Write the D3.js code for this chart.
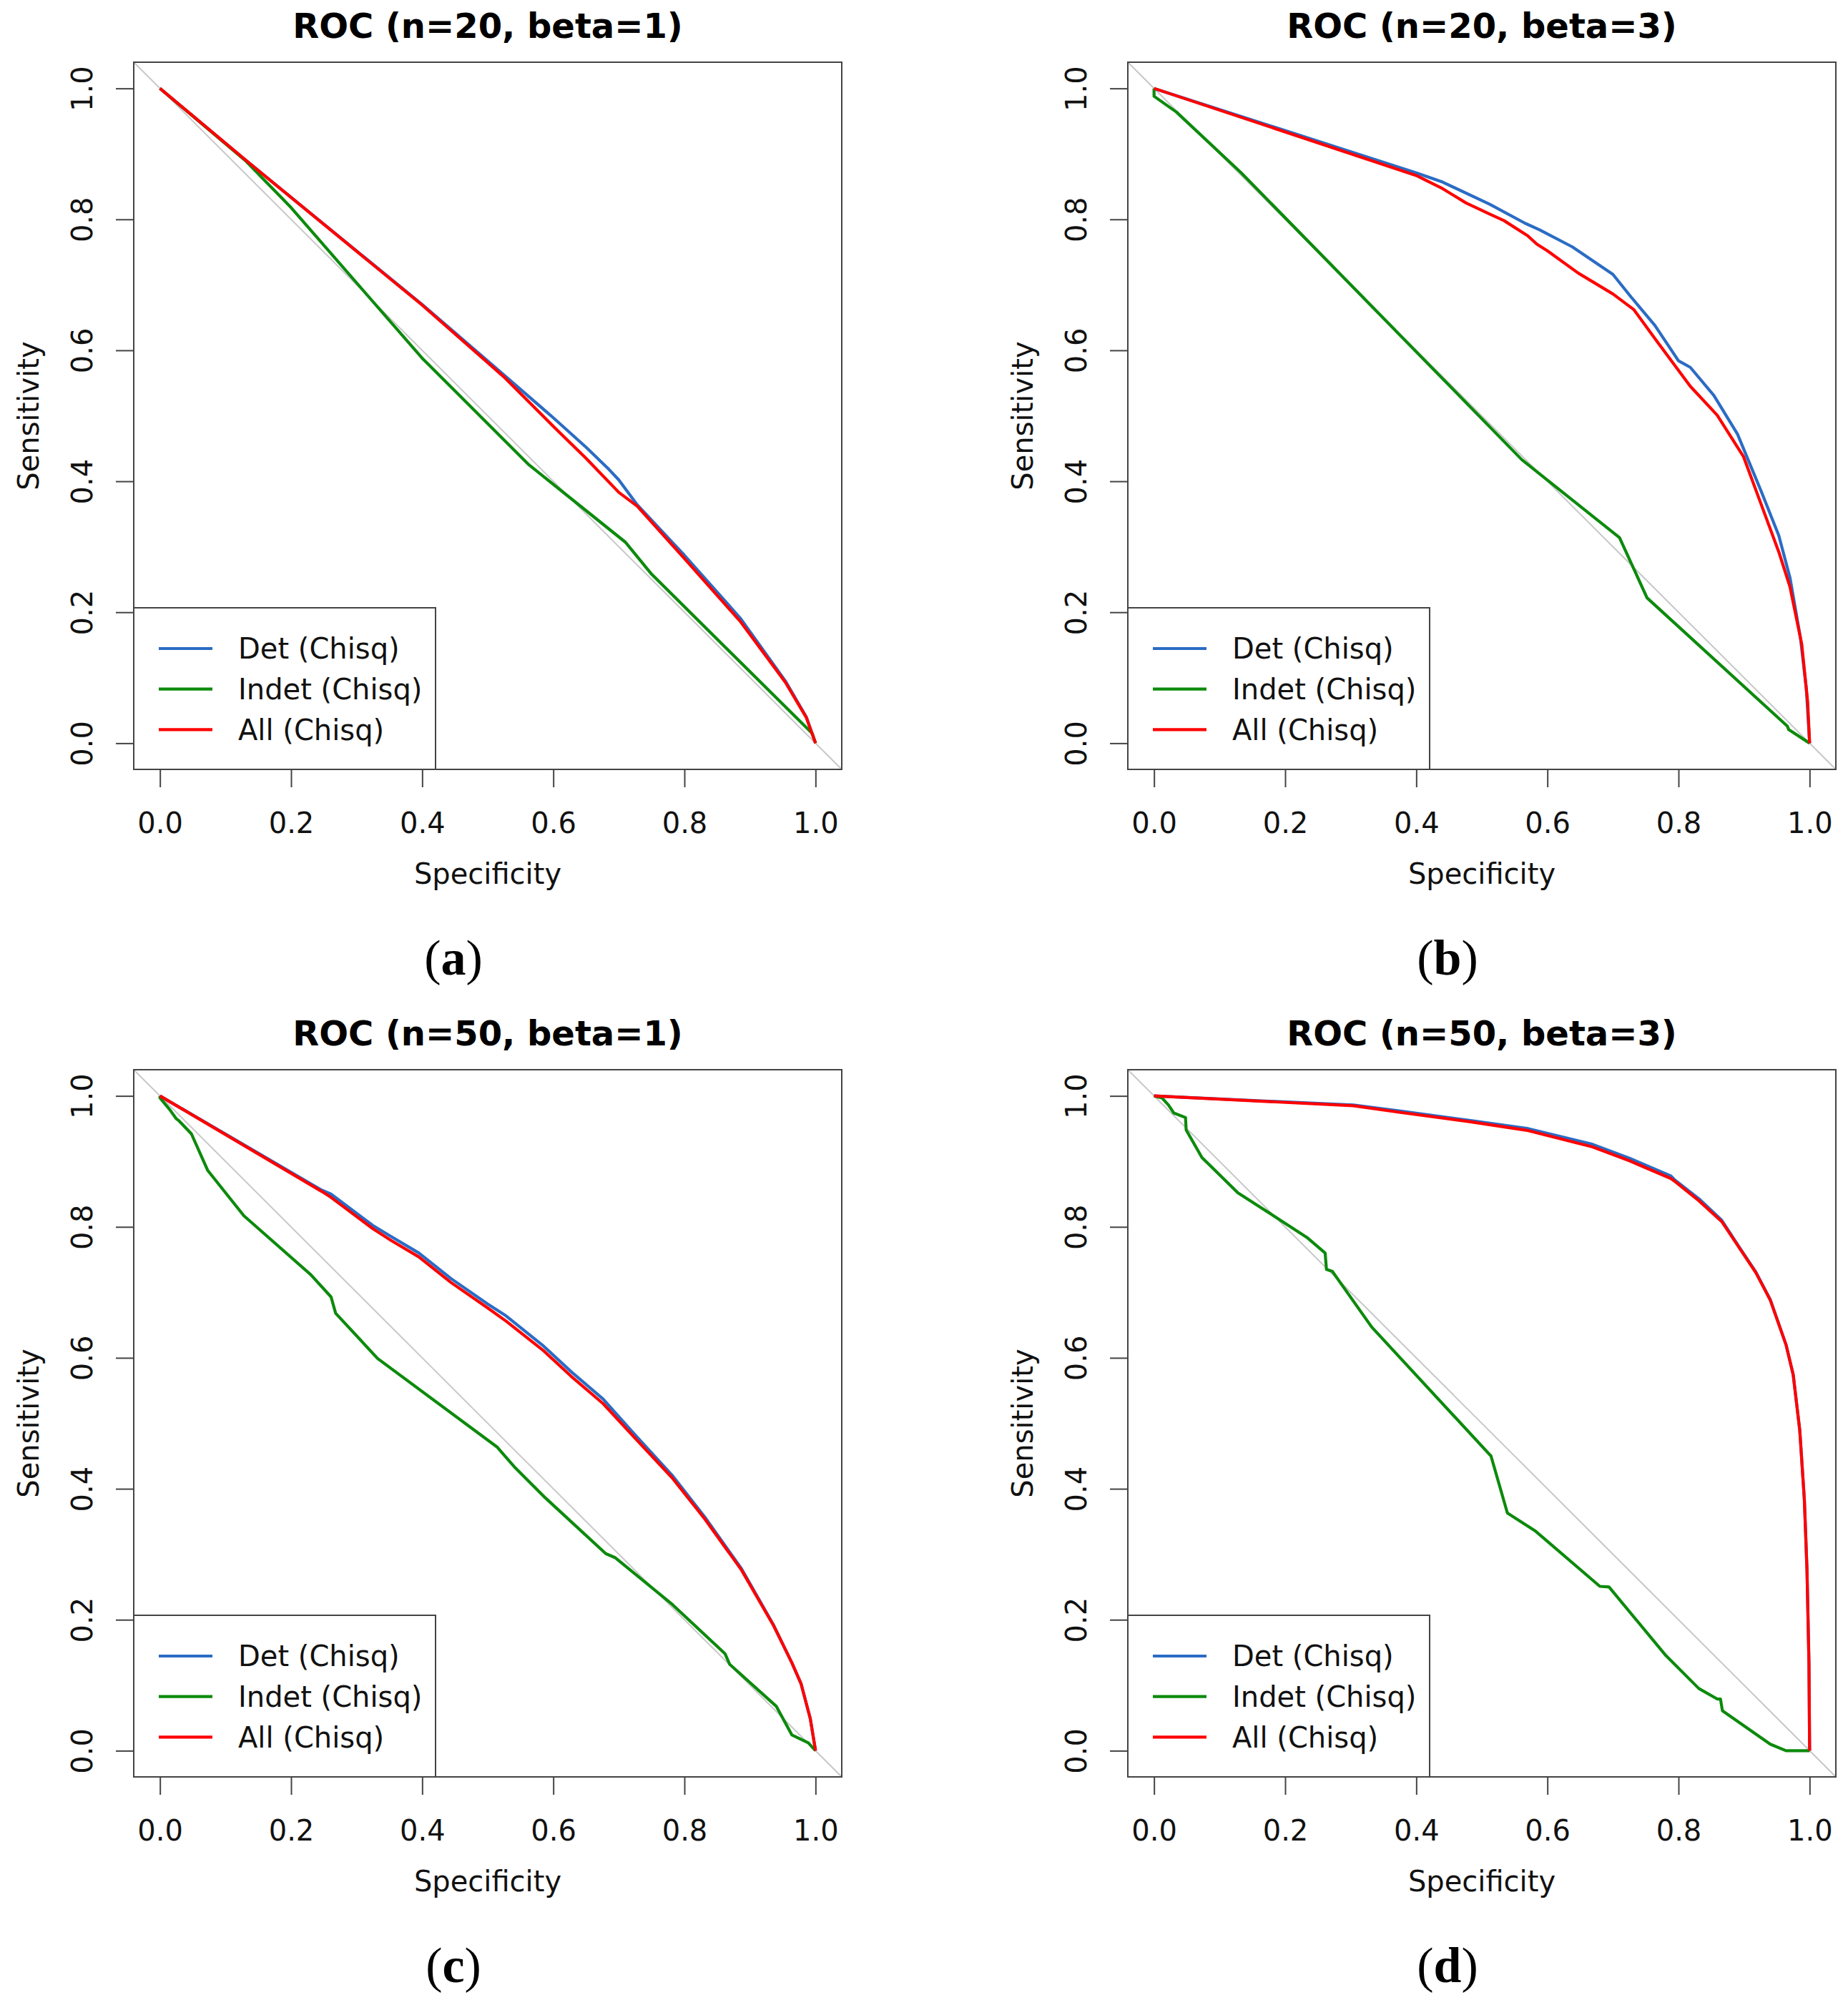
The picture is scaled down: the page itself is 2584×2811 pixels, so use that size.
<!DOCTYPE html>
<html>
<head>
<meta charset="utf-8">
<script src="https://cdn.jsdelivr.net/npm/d3@7"></script>
<style>
  body { margin: 0; background: #fff; }
  svg { display: block; }
</style>
</head>
<body>
<div id="svg-container"></div>
<script>
// data: [specificity, sensitivity] points

// (a) n=20, beta=1
const a_det = [[0,1],[0.13,0.891],[0.4,0.670],[0.524,0.563],[0.6,0.497],[0.65,0.452],[0.685,0.418],[0.70,0.402],[0.728,0.364],[0.80,0.287],[0.886,0.190],[0.954,0.095],[0.986,0.040],[1,0]]
const a_indet = [[0,1],[0.13,0.89],[0.2,0.818],[0.4,0.588],[0.563,0.425],[0.71,0.307],[0.75,0.258],[0.995,0.015],[1,0]]
const a_all = [[0,1],[0.13,0.891],[0.4,0.669],[0.524,0.560],[0.6,0.484],[0.65,0.435],[0.70,0.383],[0.728,0.362],[0.80,0.282],[0.886,0.185],[0.954,0.093],[0.986,0.039],[1,0]]

// (b) n=20, beta=3
const b_det = [[0,1],[0.4,0.871],[0.44,0.857],[0.512,0.823],[0.566,0.794],[0.588,0.784],[0.638,0.758],[0.70,0.716],[0.728,0.681],[0.764,0.638],[0.80,0.584],[0.818,0.574],[0.854,0.531],[0.89,0.472],[0.926,0.385],[0.953,0.317],[0.97,0.253],[0.986,0.161],[0.995,0.083],[1,0]]
const b_indet = [[0,1],[0,0.988],[0.034,0.964],[0.133,0.871],[0.561,0.433],[0.71,0.314],[0.752,0.222],[0.966,0.026],[0.968,0.021],[1,0]]
const b_all = [[0,1],[0.4,0.867],[0.44,0.847],[0.476,0.825],[0.512,0.808],[0.534,0.798],[0.57,0.775],[0.584,0.762],[0.6,0.752],[0.647,0.718],[0.70,0.686],[0.732,0.662],[0.764,0.618],[0.818,0.545],[0.859,0.501],[0.899,0.438],[0.926,0.365],[0.953,0.292],[0.97,0.239],[0.988,0.151],[0.997,0.063],[1,0]]

// (c) n=50, beta=1
const c_det = [[0,1],[0.247,0.856],[0.261,0.850],[0.325,0.802],[0.353,0.785],[0.395,0.760],[0.444,0.721],[0.500,0.682],[0.528,0.664],[0.585,0.618],[0.627,0.579],[0.676,0.537],[0.725,0.482],[0.781,0.421],[0.831,0.357],[0.887,0.278],[0.936,0.192],[0.964,0.134],[0.978,0.102],[0.992,0.049],[1,0]]
const c_indet = [[0,1],[0,0.997],[0.015,0.979],[0.025,0.965],[0.029,0.962],[0.048,0.942],[0.073,0.886],[0.128,0.817],[0.230,0.727],[0.261,0.693],[0.268,0.668],[0.332,0.599],[0.514,0.464],[0.542,0.432],[0.588,0.386],[0.680,0.301],[0.694,0.295],[0.782,0.223],[0.862,0.148],[0.869,0.132],[0.940,0.068],[0.964,0.024],[0.989,0.012],[1,0]]
const c_all = [[0,1],[0.247,0.854],[0.261,0.845],[0.325,0.797],[0.353,0.779],[0.395,0.754],[0.444,0.715],[0.500,0.676],[0.528,0.656],[0.585,0.611],[0.627,0.572],[0.676,0.530],[0.725,0.477],[0.781,0.417],[0.831,0.354],[0.887,0.276],[0.936,0.191],[0.964,0.134],[0.978,0.102],[0.992,0.049],[1,0]]

// (d) n=50, beta=3
const d_det = [[0,1],[0.304,0.986],[0.374,0.977],[0.479,0.963],[0.571,0.950],[0.669,0.926],[0.725,0.905],[0.788,0.878],[0.795,0.871],[0.831,0.843],[0.866,0.810],[0.894,0.767],[0.918,0.731],[0.940,0.689],[0.964,0.620],[0.975,0.574],[0.985,0.489],[0.992,0.383],[0.996,0.276],[0.999,0.134],[1,0]]
const d_indet = [[0,1],[0.012,0.997],[0.022,0.986],[0.030,0.974],[0.048,0.967],[0.049,0.948],[0.073,0.906],[0.128,0.852],[0.233,0.784],[0.261,0.760],[0.263,0.735],[0.272,0.732],[0.332,0.647],[0.514,0.450],[0.539,0.363],[0.581,0.336],[0.680,0.251],[0.694,0.250],[0.781,0.145],[0.831,0.095],[0.859,0.079],[0.864,0.079],[0.867,0.061],[0.940,0.010],[0.964,0],[1,0]]
const d_all = [[0,1],[0.304,0.985],[0.374,0.975],[0.479,0.961],[0.571,0.947],[0.669,0.922],[0.725,0.901],[0.788,0.874],[0.795,0.869],[0.831,0.840],[0.866,0.808],[0.894,0.766],[0.918,0.730],[0.940,0.688],[0.964,0.620],[0.975,0.574],[0.985,0.489],[0.992,0.383],[0.996,0.276],[0.999,0.134],[1,0]]

const titles = ['ROC (n=20, beta=1)', 'ROC (n=20, beta=3)', 'ROC (n=50, beta=1)', 'ROC (n=50, beta=3)']
const letters = ['a', 'b', 'c', 'd']
const seriesNames = ['Det (Chisq)', 'Indet (Chisq)', 'All (Chisq)']
const tickValues = [0, 0.2, 0.4, 0.6, 0.8, 1.0]

const panels = [
    [a_det, a_indet, a_all],
    [b_det, b_indet, b_all],
    [c_det, c_indet, c_all],
    [d_det, d_indet, d_all]
]

// dimensions
const dim = {
    width: 2584,
    height: 2811,
    plotW: 990,
    plotH: 989,
    left: 187,
    top: 87,
    stepX: 1390,
    stepY: 1409
}

const colors = ['#2b6cc4', '#0c8a0c', '#ff0000']
const font = '"DejaVu Sans", Verdana, sans-serif'

const svg = d3.select('#svg-container')
    .append('svg')
        .attr('width', dim.width)
        .attr('height', dim.height)

svg.append('rect')
    .attr('width', dim.width)
    .attr('height', dim.height)
    .attr('fill', '#fff')

// scales (R style 4% padding)
const xScale = d3.scaleLinear()
    .domain([-0.04, 1.04])
    .range([0, dim.plotW])

const yScale = d3.scaleLinear()
    .domain([-0.04, 1.04])
    .range([dim.plotH, 0])

const line = d3.line()
    .x(d => xScale(d[0]))
    .y(d => yScale(d[1]))

panels.forEach((series, i) => {
    const col = i % 2
    const row = Math.floor(i / 2)
    const g = svg.append('g')
        .attr('transform', `translate(${dim.left + col * dim.stepX}, ${dim.top + row * dim.stepY})`)

    // diagonal reference
    g.append('line')
        .attr('x1', xScale(-0.04)).attr('y1', yScale(1.04))
        .attr('x2', xScale(1.04)).attr('y2', yScale(-0.04))
        .attr('stroke', '#c8c8c8')
        .attr('stroke-width', 2)

    // curves
    g.append('g')
        .selectAll('path')
        .data(series)
        .join('path')
            .attr('d', line)
            .attr('fill', 'none')
            .attr('stroke', (d, j) => colors[j])
            .attr('stroke-width', 4.2)
            .attr('stroke-linejoin', 'round')

    // axes
    const xAxis = d3.axisBottom(xScale)
        .tickValues(tickValues)
        .tickFormat(d3.format('.1f'))
        .tickSize(25)
        .tickPadding(0)

    const gx = g.append('g')
        .attr('transform', `translate(0, ${dim.plotH})`)
        .call(xAxis)
    gx.select('.domain').remove()
    gx.selectAll('.tick line').attr('stroke', '#444').attr('stroke-width', 2)
    gx.selectAll('.tick text')
        .attr('y', 89)
        .attr('dy', 0)
        .attr('font-size', 40)
        .attr('font-family', font)
        .attr('fill', '#111')

    const yAxis = d3.axisLeft(yScale)
        .tickValues(tickValues)
        .tickFormat(d3.format('.1f'))
        .tickSize(25)

    const gy = g.append('g')
        .call(yAxis)
    gy.select('.domain').remove()
    gy.selectAll('.tick line').attr('stroke', '#444').attr('stroke-width', 2)
    gy.selectAll('.tick text')
        .attr('x', null).attr('dy', null)
        .attr('transform', 'translate(-72, 0) rotate(-90)')
        .attr('text-anchor', 'middle')
        .attr('dy', '0.36em')
        .attr('font-size', 40)
        .attr('font-family', font)
        .attr('fill', '#111')

    // box
    g.append('rect')
        .attr('width', dim.plotW)
        .attr('height', dim.plotH)
        .attr('fill', 'none')
        .attr('stroke', '#444')
        .attr('stroke-width', 2)

    // legend
    const leg = g.append('g')
        .attr('transform', `translate(0, ${dim.plotH - 226})`)
    leg.append('rect')
        .attr('width', 422)
        .attr('height', 226)
        .attr('fill', '#fff')
        .attr('stroke', '#444')
        .attr('stroke-width', 2)
    seriesNames.forEach((name, j) => {
        leg.append('line')
            .attr('x1', 35).attr('x2', 110)
            .attr('y1', 57 + j * 56.7).attr('y2', 57 + j * 56.7)
            .attr('stroke', colors[j])
            .attr('stroke-width', 4.2)
        leg.append('text')
            .attr('x', 146)
            .attr('y', 57 + j * 56.7)
            .attr('dy', '0.36em')
            .attr('font-size', 40)
            .attr('font-family', font)
            .attr('fill', '#111')
            .text(name)
    })

    // titles
    g.append('text')
        .attr('x', dim.plotW / 2)
        .attr('y', -34)
        .attr('text-anchor', 'middle')
        .attr('font-size', 48)
        .attr('font-weight', 'bold')
        .attr('font-family', font)
        .attr('fill', '#000')
        .text(titles[i])

    g.append('text')
        .attr('x', dim.plotW / 2)
        .attr('y', 1149)
        .attr('text-anchor', 'middle')
        .attr('font-size', 40)
        .attr('font-family', font)
        .attr('fill', '#111')
        .text('Specificity')

    g.append('text')
        .attr('transform', `translate(-133, ${dim.plotH / 2}) rotate(-90)`)
        .attr('text-anchor', 'middle')
        .attr('font-size', 40)
        .attr('font-family', font)
        .attr('fill', '#111')
        .text('Sensitivity')

    // panel letter
    const lab = g.append('text')
        .attr('x', 447)
        .attr('y', 1276)
        .attr('text-anchor', 'middle')
        .attr('font-size', 70)
        .attr('font-family', '"Liberation Serif", "DejaVu Serif", serif')
        .attr('fill', '#000')
    lab.append('tspan').text('(')
    lab.append('tspan').attr('font-weight', 'bold').text(letters[i])
    lab.append('tspan').text(')')
})
</script>
</body>
</html>
